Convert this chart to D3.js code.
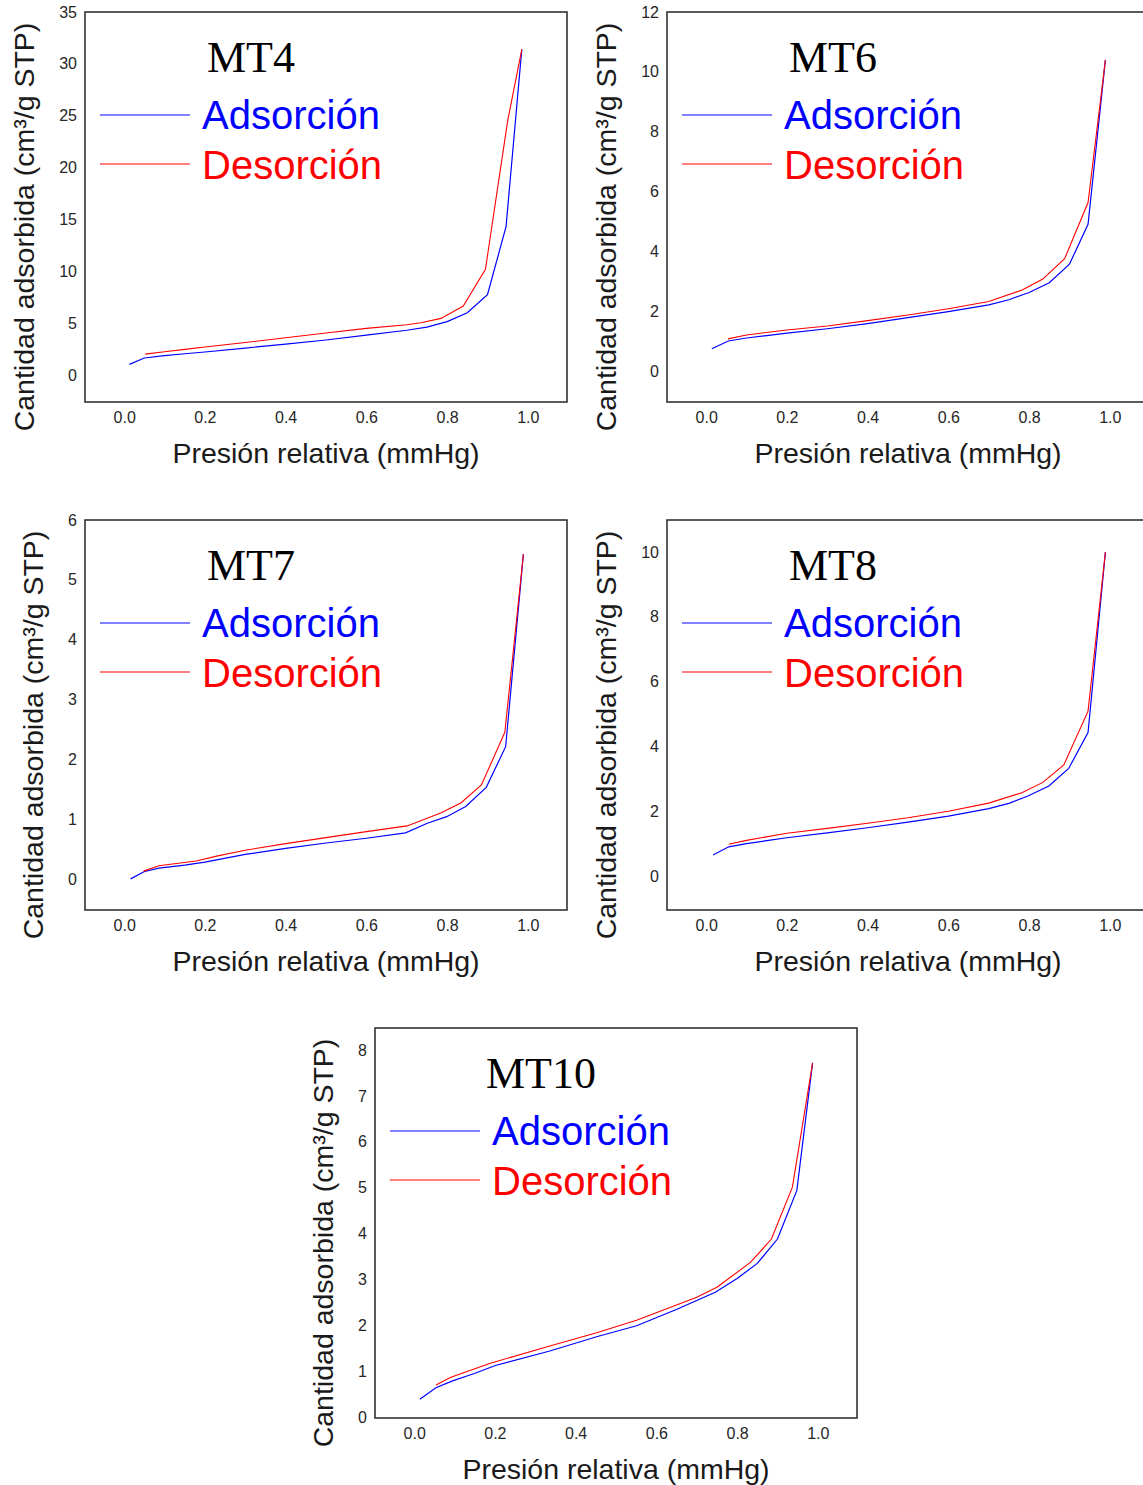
<!DOCTYPE html>
<html><head><meta charset="utf-8">
<script src="https://cdn.jsdelivr.net/npm/d3@7"></script>
<style>
body{margin:0;background:#fff;}
svg{display:block;}
</style></head>
<body><svg id="c" width="1143" height="1485"></svg>
<script>
// ---- data ----
const xTicks = [0.0, 0.2, 0.4, 0.6, 0.8, 1.0];
const legendLabels = ["Adsorción", "Desorción"];
const xLabel = "Presión relativa (mmHg)";
const yLabel = "Cantidad adsorbida (cm³/g STP)";

const mt4AdsX = [0.013,0.05,0.1,0.15,0.2,0.3,0.4,0.5,0.6,0.7,0.75,0.8,0.85,0.9,0.946,0.985];
const mt4AdsY = [1.03,1.64,1.88,2.05,2.22,2.6,2.98,3.38,3.85,4.32,4.62,5.15,6.0,7.75,14.3,31.4];
const mt4DesX = [0.985,0.95,0.895,0.84,0.785,0.735,0.7,0.6,0.5,0.4,0.3,0.2,0.15,0.1,0.052];
const mt4DesY = [31.4,24.5,10.2,6.65,5.46,5.04,4.85,4.5,4.05,3.6,3.14,2.7,2.47,2.25,2.02];
const mt4YTicks = [0,5,10,15,20,25,30,35];

const mt6AdsX = [0.014,0.055,0.1,0.15,0.2,0.3,0.4,0.5,0.6,0.7,0.75,0.8,0.85,0.9,0.946,0.989];
const mt6AdsY = [0.74,1.0,1.1,1.18,1.26,1.41,1.58,1.78,1.98,2.21,2.38,2.62,2.95,3.57,4.9,10.4];
const mt6DesX = [0.989,0.946,0.888,0.834,0.784,0.7,0.6,0.5,0.4,0.3,0.2,0.1,0.054];
const mt6DesY = [10.4,5.63,3.75,3.07,2.71,2.32,2.08,1.87,1.68,1.5,1.37,1.2,1.07];
const mt6YTicks = [0,2,4,6,8,10,12];

const mt7AdsX = [0.016,0.049,0.086,0.15,0.2,0.3,0.4,0.5,0.6,0.697,0.751,0.799,0.846,0.897,0.945,0.989];
const mt7AdsY = [0.0,0.12,0.18,0.23,0.28,0.41,0.51,0.6,0.68,0.77,0.93,1.04,1.21,1.53,2.21,5.43];
const mt7DesX = [0.989,0.943,0.885,0.834,0.784,0.701,0.6,0.5,0.4,0.3,0.232,0.178,0.086,0.048];
const mt7DesY = [5.43,2.45,1.57,1.27,1.10,0.886,0.79,0.69,0.59,0.48,0.385,0.30,0.22,0.13];
const mt7YTicks = [0,1,2,3,4,5,6];

const mt8AdsX = [0.017,0.056,0.1,0.15,0.2,0.3,0.4,0.5,0.6,0.7,0.75,0.797,0.849,0.898,0.946,0.989];
const mt8AdsY = [0.65,0.9,1.0,1.09,1.18,1.33,1.49,1.66,1.85,2.08,2.24,2.47,2.78,3.32,4.43,10.0];
const mt8DesX = [0.989,0.946,0.886,0.834,0.782,0.7,0.6,0.5,0.4,0.3,0.2,0.1,0.056];
const mt8DesY = [10.0,5.09,3.43,2.89,2.57,2.25,2.0,1.8,1.63,1.47,1.32,1.1,0.98];
const mt8YTicks = [0,2,4,6,8,10];

const mt10AdsX = [0.014,0.054,0.095,0.149,0.203,0.336,0.452,0.551,0.651,0.746,0.8,0.85,0.9,0.948,0.987];
const mt10AdsY = [0.39,0.64,0.79,0.95,1.13,1.44,1.75,1.99,2.35,2.72,3.02,3.35,3.88,4.94,7.72];
const mt10DesX = [0.987,0.937,0.885,0.833,0.75,0.7,0.551,0.452,0.336,0.187,0.091,0.054];
const mt10DesY = [7.72,5.01,3.88,3.37,2.83,2.61,2.11,1.84,1.55,1.17,0.87,0.70];
const mt10YTicks = [0,1,2,3,4,5,6,7,8];

const sampleNames = ["MT4","MT6","MT7","MT8","MT10"];

// ---- layout ----
const W = 482, H = 390;
const panels = [
  {name:sampleNames[0], left:85,  top:12,   yDom:[-2.6,35],    ticks:mt4YTicks, ax:mt4AdsX, ay:mt4AdsY, dx:mt4DesX, dy:mt4DesY},
  {name:sampleNames[1], left:667, top:12,   yDom:[-1.04,12],   ticks:mt6YTicks, ax:mt6AdsX, ay:mt6AdsY, dx:mt6DesX, dy:mt6DesY},
  {name:sampleNames[2], left:85,  top:520,  yDom:[-0.52,6],    ticks:mt7YTicks, ax:mt7AdsX, ay:mt7AdsY, dx:mt7DesX, dy:mt7DesY},
  {name:sampleNames[3], left:667, top:520,  yDom:[-1.05,10.99],ticks:mt8YTicks, ax:mt8AdsX, ay:mt8AdsY, dx:mt8DesX, dy:mt8DesY},
  {name:sampleNames[4], left:375, top:1028, yDom:[-0.02,8.48], ticks:mt10YTicks,ax:mt10AdsX,ay:mt10AdsY,dx:mt10DesX,dy:mt10DesY}
];

const svg = d3.select("#c");
const sans = "'Liberation Sans', Arial, sans-serif";
const serif = "'Liberation Serif', 'Times New Roman', serif";

panels.forEach(p => {
  const g = svg.append("g").attr("transform", `translate(${p.left},${p.top})`);
  const x = d3.scaleLinear().domain([-0.097, 1.097]).range([0, W]);
  const y = d3.scaleLinear().domain(p.yDom).range([H, 0]);

  // y tick labels
  const yAxis = d3.axisLeft(y).tickValues(p.ticks).tickSize(0).tickPadding(8).tickFormat(d3.format("d"));
  const ya = g.append("g").call(yAxis);
  ya.select(".domain").remove();
  ya.selectAll("text").attr("font-family", sans).attr("font-size", 16).attr("fill", "#262626");

  // x tick labels
  const xAxis = d3.axisBottom(x).tickValues(xTicks).tickSize(0).tickPadding(10).tickFormat(d3.format(".1f"));
  const xa = g.append("g").attr("transform", `translate(0,${H})`).call(xAxis);
  xa.select(".domain").remove();
  xa.selectAll("text").attr("font-family", sans).attr("font-size", 16).attr("fill", "#262626");

  // data lines
  const line = d3.line().x(d => x(d[0])).y(d => y(d[1]));
  const ads = p.ax.map((v,i) => [v, p.ay[i]]);
  const des = p.dx.map((v,i) => [v, p.dy[i]]);
  g.append("path").attr("d", line(ads)).attr("fill","none").attr("stroke","#0000ff").attr("stroke-width",1.2);
  g.append("path").attr("d", line(des)).attr("fill","none").attr("stroke","#ff0000").attr("stroke-width",1.1);

  // frame
  g.append("rect").attr("x",0).attr("y",0).attr("width",W).attr("height",H)
    .attr("fill","none").attr("stroke","#262626").attr("stroke-width",1.5);

  // title
  g.append("text").attr("x",166).attr("y",60).attr("text-anchor","middle")
    .attr("font-family",serif).attr("font-size",44).attr("fill","#000").text(p.name);

  // legend
  const leg = [{c:"#0000ff", t:legendLabels[0], ly:103, ty:117},{c:"#ff0000", t:legendLabels[1], ly:152, ty:167}];
  leg.forEach(l => {
    g.append("line").attr("x1",15).attr("x2",105).attr("y1",l.ly).attr("y2",l.ly)
      .attr("stroke",l.c).attr("stroke-width",1.1);
    g.append("text").attr("x",117).attr("y",l.ty).attr("font-family",sans).attr("font-size",40)
      .attr("fill",l.c).text(l.t);
  });

  // axis labels
  g.append("text").attr("x",W/2).attr("y",H+61).attr("text-anchor","middle")
    .attr("font-family",sans).attr("font-size",28.5).attr("fill","#1a1a1a").text(xLabel);
  const twoDigit = d3.max(p.ticks) >= 10;
  const lx = twoDigit ? -51.5 : -42.5;
  g.append("text").attr("transform",`translate(${lx},${H/2+20}) rotate(-90)`).attr("text-anchor","middle")
    .attr("font-family",sans).attr("font-size",28.5).attr("fill","#1a1a1a").text(yLabel);
});
</script>
</body></html>
